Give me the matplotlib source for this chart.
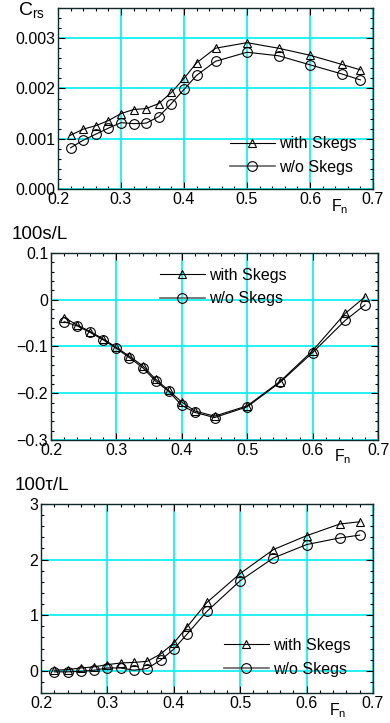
import matplotlib
matplotlib.use("Agg")
import matplotlib.pyplot as plt
from matplotlib.lines import Line2D
from matplotlib.ticker import MultipleLocator, FixedLocator, FixedFormatter

plt.rcParams['font.family'] = ['Liberation Sans', 'DejaVu Sans']
plt.rcParams['mathtext.fontset'] = 'custom'
plt.rcParams['mathtext.rm'] = 'Liberation Sans'

fn = [0.22, 0.24, 0.26, 0.28, 0.30, 0.32, 0.34, 0.36, 0.38, 0.40, 0.42, 0.45, 0.50, 0.55, 0.60, 0.65, 0.68]

crs_with = [0.00107, 0.00119, 0.00126, 0.00136, 0.00150, 0.00158, 0.00160, 0.00170, 0.00192, 0.00220,
            0.00251, 0.00280, 0.00291, 0.00280, 0.00266, 0.00248, 0.00237]
crs_wo = [0.00082, 0.00097, 0.00109, 0.00121, 0.00132, 0.00130, 0.00131, 0.00144, 0.00170, 0.00198,
          0.00226, 0.00254, 0.00272, 0.00265, 0.00247, 0.00229, 0.00217]

sink_with = [-0.038, -0.054, -0.068, -0.084, -0.102, -0.121, -0.141, -0.170, -0.194, -0.219,
             -0.238, -0.249, -0.227, -0.175, -0.109, -0.029, 0.006]
sink_wo = [-0.047, -0.056, -0.070, -0.086, -0.104, -0.124, -0.145, -0.174, -0.196, -0.226,
           -0.241, -0.252, -0.229, -0.177, -0.113, -0.044, -0.011]

trim_with = [0.01, 0.02, 0.05, 0.07, 0.11, 0.14, 0.15, 0.17, 0.30, 0.50,
             0.79, 1.23, 1.75, 2.18, 2.43, 2.64, 2.68]
trim_wo = [-0.02, -0.02, -0.01, 0.01, 0.05, 0.05, 0.01, 0.04, 0.19, 0.39,
           0.66, 1.07, 1.62, 2.03, 2.27, 2.39, 2.44]

labels = ["with Skegs", "w/o Skegs"]
xticks = [0.2, 0.3, 0.4, 0.5, 0.6, 0.7]
xticklabels = ["0.2", "0.3", "0.4", "0.5", "0.6", "0.7"]

FS = 11.5
GRID = '#00f0f0'

fig = plt.figure(figsize=(3.9, 7.23), dpi=100)

panels = [
    dict(rect=[58/390, 1-189/723, 315/390, 181/723], yw=crs_with, yo=crs_wo,
         ylim=(0, 0.0036), yt=[0, 0.001, 0.002, 0.003], ytl=["0.000", "0.001", "0.002", "0.003"],
         ymin=0.0002, leg=(0.546, 0.185), title=r'$\mathregular{C_{rs}}$', tpos=(18/390, 1-10/723),
         fnpos=(0.893, -0.095)),
    dict(rect=[51/390, 1-440/723, 327/390, 187/723], yw=sink_with, yo=sink_wo,
         ylim=(-0.3, 0.1), yt=[-0.3, -0.2, -0.1, 0, 0.1], ytl=["\u22120.3", "\u22120.2", "\u22120.1", "0", "0.1"],
         ymin=0.02, leg=(0.333, 0.818), title='100s/L', tpos=(12/390, 1-235/723),
         fnpos=(0.893, -0.09)),
    dict(rect=[41/390, 1-693/723, 332/390, 189/723], yw=trim_with, yo=trim_wo,
         ylim=(-0.4, 3.0), yt=[0, 1, 2, 3], ytl=["0", "1", "2", "3"],
         ymin=0.2, leg=(0.551, 0.188), title='100\u03c4/L', tpos=(15/390, 1-485/723),
         fnpos=(0.893, -0.095)),
]

for p in panels:
    ax = fig.add_axes(p['rect'])
    ax.plot(fn, p['yw'], color='black', lw=0.8, marker='^', ms=6, mfc='none', mec='black', mew=0.8, zorder=3)
    ax.plot(fn, p['yo'], color='black', lw=0.8, marker='o', ms=7, mfc='none', mec='black', mew=0.8, zorder=3)
    ax.set_xlim(0.2, 0.7)
    ax.set_ylim(*p['ylim'])
    ax.xaxis.set_major_locator(FixedLocator(xticks))
    ax.xaxis.set_major_formatter(FixedFormatter(xticklabels))
    ax.xaxis.set_minor_locator(MultipleLocator(0.02))
    ax.yaxis.set_major_locator(FixedLocator(p['yt']))
    ax.yaxis.set_major_formatter(FixedFormatter(p['ytl']))
    ax.yaxis.set_minor_locator(MultipleLocator(p['ymin']))
    ax.tick_params(which='both', direction='in', top=True, right=True, labelsize=FS, colors='black')
    ax.tick_params(which='major', length=5, width=0.8)
    ax.tick_params(which='minor', length=2.5, width=0.8)
    ax.tick_params(axis='x', pad=2)
    ax.tick_params(axis='y', pad=2)
    ax.grid(True, which='major', color=GRID, lw=1.2, zorder=0)
    ax.set_axisbelow(True)
    for s in ax.spines.values():
        s.set_linewidth(1.0)
        s.set_color('#102828')
    h1 = Line2D([], [], color='black', lw=0.8, marker='^', ms=6, mfc='none', mec='black', mew=0.8)
    h2 = Line2D([], [], color='#555555', lw=1.1, marker='o', ms=7, mfc='none', mec='black', mew=0.8)
    ax.legend([h1, h2], labels, loc='center left', bbox_to_anchor=p['leg'], frameon=False,
              fontsize=FS, numpoints=1, handlelength=2.8, handletextpad=0.25,
              borderpad=0, borderaxespad=0, labelspacing=0.55)
    ax.text(p['fnpos'][0], p['fnpos'][1], r'$\mathregular{F_n}$', transform=ax.transAxes,
            fontsize=FS, ha='center', va='center')
    fig.text(p['tpos'][0], p['tpos'][1], p['title'], fontsize=13.5 if p['title'] != r'$\mathregular{C_{rs}}$' else 14,
             ha='left', va='center')

fig.savefig('out.png', dpi=100)
